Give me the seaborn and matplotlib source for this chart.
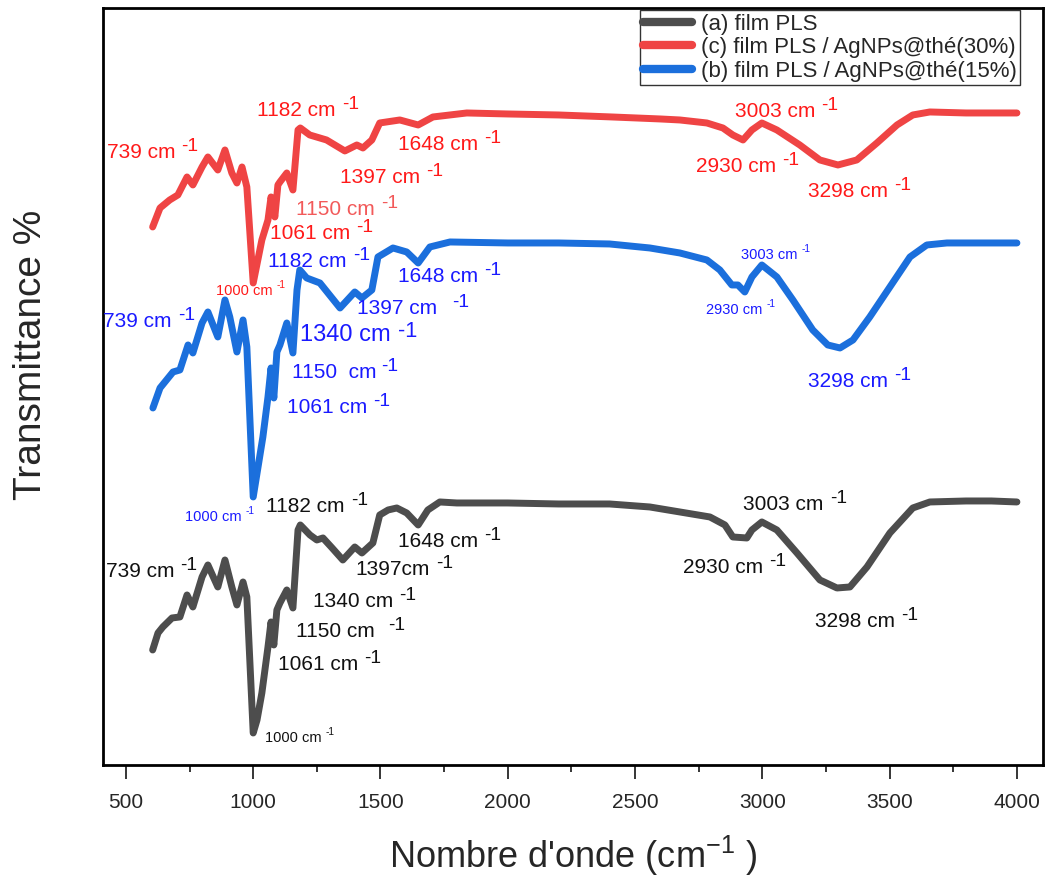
import matplotlib
matplotlib.use("Agg")
import matplotlib.pyplot as plt
from matplotlib.ticker import MultipleLocator
import seaborn as sns
import pandas as pd

# ---------------- data (arbitrary offset transmittance units) ----
series_names = ["(a) film PLS", "(c) film PLS / AgNPs@thé(30%)", "(b) film PLS / AgNPs@thé(15%)"]
series_colors = ["#4d4d4d", "#ef4444", "#1b6fdc"]

wn_a = [605, 626, 645, 681, 712, 740, 763, 799, 822, 861, 889, 916, 936, 960, 975,
        1000, 1015, 1034, 1058, 1070, 1081, 1093, 1105, 1132, 1156, 1176, 1185, 1223, 1250, 1274,
        1310, 1352, 1399, 1427, 1470, 1497, 1530, 1564, 1603, 1648, 1686, 1733, 1800, 2000, 2200,
        2400, 2558, 2676, 2794, 2853, 2884, 2939, 2959, 2998, 3057, 3136, 3226, 3293, 3344, 3411,
        3501, 3591, 3658, 3800, 3900, 4000]
t_a = [115, 132, 138, 147, 148, 170, 158, 188, 200, 178, 205, 178, 160, 183, 168,
       32, 45, 72, 118, 143, 120, 155, 162, 175, 157, 235, 240, 230, 225, 227,
       217, 205, 218, 212, 222, 250, 255, 257, 252, 240, 255, 263, 262, 262, 261,
       261, 258, 253, 248, 240, 228, 227, 235, 243, 235, 212, 185, 177, 178, 198,
       232, 257, 263, 264, 264, 263]

wn_c = [605, 634, 672, 704, 740, 763, 799, 822, 861, 889, 916, 936, 956, 975, 1000,
        1034, 1058, 1070, 1085, 1097, 1105, 1132, 1156, 1176, 1185, 1222, 1288, 1360, 1407, 1431,
        1466, 1497, 1576, 1648, 1706, 1839, 2000, 2200, 2410, 2600, 2676, 2782, 2845, 2884, 2924,
        2959, 2998, 3057, 3147, 3226, 3297, 3371, 3450, 3529, 3591, 3658, 3800, 4000]
t_c = [538, 557, 565, 570, 588, 580, 598, 608, 595, 615, 592, 582, 598, 578, 482,
       525, 545, 568, 548, 580, 583, 592, 575, 635, 637, 630, 625, 614, 620, 617,
       625, 642, 645, 640, 648, 652, 651, 650, 648, 646, 645, 642, 637, 630, 625,
       635, 642, 635, 620, 605, 600, 605, 622, 640, 650, 653, 652, 652]

wn_b = [606, 634, 685, 712, 744, 763, 799, 822, 861, 889, 908, 936, 960, 975, 1000,
        1038, 1058, 1070, 1081, 1093, 1105, 1132, 1156, 1172, 1183, 1210, 1262, 1341, 1399, 1427,
        1466, 1490, 1549, 1603, 1648, 1694, 1773, 2000, 2200, 2400, 2558, 2676, 2782, 2833, 2880,
        2904, 2931, 2959, 2998, 3057, 3120, 3198, 3257, 3305, 3356, 3422, 3501, 3580, 3646, 3725,
        4000]
t_b = [357, 377, 393, 395, 420, 412, 442, 453, 428, 465, 448, 413, 445, 418, 268,
       328, 368, 397, 367, 413, 420, 442, 412, 475, 495, 487, 482, 457, 473, 467,
       475, 508, 517, 513, 502, 518, 523, 522, 522, 521, 517, 512, 505, 495, 480,
       480, 473, 488, 500, 488, 465, 435, 420, 417, 425, 448, 478, 508, 520, 522,
       522]

# peak annotations (main text; the "-1" exponent is added after it)
ann_text = ["739 cm", "1182 cm", "1648 cm", "1397 cm", "1150 cm", "1061 cm", "1000 cm",
            "3003 cm", "2930 cm", "3298 cm",
            "739 cm", "1182 cm", "1648 cm", "1397 cm", "1340 cm", "1150  cm", "1061 cm",
            "1000 cm", "3003 cm", "2930 cm", "3298 cm",
            "739 cm", "1182 cm", "1648 cm", "1397cm", "1340 cm", "1150 cm", "1061 cm",
            "1000 cm", "3003 cm", "2930 cm", "3298 cm"]
ann_sup = "-1"
ann_color = (["#ff1a1a"] * 4 + ["#f25a5a"] + ["#ff1a1a"] * 5
             + ["#1a1aff"] * 11 + ["#111111"] * 11)
ann_x = [425, 1015, 1568, 1341, 1168, 1066, 854, 2892, 2739, 3179,
         410, 1058, 1568, 1407, 1183, 1152, 1132, 732, 2916, 2778, 3179,
         421, 1050, 1568, 1400, 1235, 1168, 1097, 1046, 2924, 2688, 3206]
ann_y = [612, 654, 620, 587, 555, 531, 474, 653, 598, 573,
         443, 503, 488, 456, 430, 392, 357, 248, 510, 455, 383,
         193, 258, 223, 195, 163, 133, 100, 27, 260, 197, 143]
ann_size = [15, 15, 15, 15, 15, 15, 10.5, 15, 15, 15,
            15, 15, 15, 15, 17, 15, 15, 10.5, 10.5, 10.5, 15,
            15, 15, 15, 15, 15, 15, 15, 10.5, 15, 15, 15]
ann_gap = [0.3, 0.3, 0.3, 0.3, 0.3, 0.3, 0.3, 0.3, 0.3, 0.3,
           0.3, 0.3, 0.3, 0.75, 0.3, 0.25, 0.3, 0.3, 0.3, 0.3, 0.3,
           0.3, 0.3, 0.3, 0.3, 0.3, 0.65, 0.3, 0.3, 0.3, 0.3, 0.3]
ann_rise = [0.33] * 6 + [0.4] + [0.33] * 3 + \
           [0.33] * 4 + [0.15] + [0.33] * 2 + [0.4] * 3 + [0.33] + \
           [0.33] * 7 + [0.4] + [0.33] * 3

x_ticks = [500, 1000, 1500, 2000, 2500, 3000, 3500, 4000]

# ---------------- build frame ----------------
frames = []
for name, wn, t in zip(series_names, [wn_a, wn_c, wn_b], [t_a, t_c, t_b]):
    frames.append(pd.DataFrame({"wn": wn, "T": t, "series": name}))
df = pd.concat(frames, ignore_index=True)

sns.set_style("white")
plt.rcParams["font.family"] = ["Liberation Sans", "DejaVu Sans"]
plt.rcParams["mathtext.fontset"] = "custom"
plt.rcParams["mathtext.rm"] = "Liberation Sans"
plt.rcParams["mathtext.it"] = "Liberation Sans:italic"
plt.rcParams["mathtext.bf"] = "Liberation Sans:bold"
plt.rcParams["axes.unicode_minus"] = False

DPI = 100
fig = plt.figure(figsize=(10.62, 8.86), dpi=DPI)
ax = fig.add_axes([0.097, 0.1366, 0.885, 0.8544])

sns.lineplot(data=df, x="wn", y="T", hue="series", hue_order=series_names,
             palette=series_colors, linewidth=5.0, sort=True, estimator=None,
             ax=ax, legend=True)
for ln in ax.get_lines():
    ln.set_solid_capstyle("round")
    ln.set_solid_joinstyle("round")

ax.set_xlim(410, 4102)
ax.set_ylim(0, 757)
ax.set_xticks(x_ticks)
ax.xaxis.set_minor_locator(MultipleLocator(250))
ax.set_yticks([])
ax.set_xticklabels([str(v) for v in x_ticks], fontsize=15)
ax.tick_params(axis="x", which="major", direction="out", length=10, width=1.3,
               bottom=True, top=False, pad=10)
ax.tick_params(axis="x", which="minor", direction="out", length=5, width=1.3,
               bottom=True, top=False)
for sp in ax.spines.values():
    sp.set_visible(True)
    sp.set_color("black")
    sp.set_linewidth(2.0)

ax.set_xlabel("Nombre d'onde (cm$^{\\mathregular{-1}}$ )", fontsize=26, labelpad=16)
ax.set_ylabel("Transmittance %", fontsize=28)
ax.yaxis.set_label_coords(-0.058, 0.542)

leg = ax.legend(loc="upper right", bbox_to_anchor=(0.9755, 0.997), fontsize=16,
                frameon=True, fancybox=False, handlelength=2.2, handletextpad=0.4,
                borderpad=0.15, labelspacing=0.12, borderaxespad=0.0)
leg.get_frame().set_edgecolor("black")
leg.get_frame().set_linewidth(1.0)
for h in leg.get_lines():
    h.set_linewidth(6)

# annotations with a large raised "-1"
fig.canvas.draw()
renderer = fig.canvas.get_renderer()
for txt, c, x, y, s, g, r in zip(ann_text, ann_color, ann_x, ann_y, ann_size, ann_gap, ann_rise):
    t = ax.text(x, y, txt, color=c, fontsize=s, ha="left", va="center")
    w_pt = t.get_window_extent(renderer).width * 72.0 / DPI
    sup_size = s * (0.7 if s < 12 else 0.92)
    ax.annotate(ann_sup, xy=(x, y), xycoords="data",
                xytext=(w_pt + g * s, r * s), textcoords="offset points",
                color=c, fontsize=sup_size, ha="left", va="center")

fig.savefig("out.png", dpi=DPI)
